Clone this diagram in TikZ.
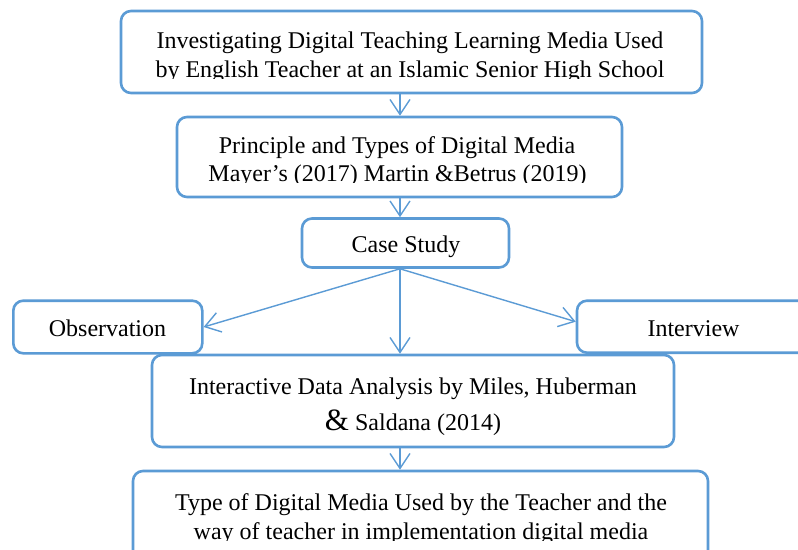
\documentclass[tikz,border=0pt]{standalone}
\usepackage{fontspec}
\setmainfont{Liberation Serif}
\usetikzlibrary{arrows.meta}
\definecolor{frame}{HTML}{5B9BD5}
\tikzset{
  box/.style={draw=frame, line width=2.6pt, rounded corners=10pt, fill=white, inner sep=0pt},
  txt/.style={anchor=base, inner sep=0pt, font=\fontsize{24}{24}\selectfont},
  arr/.style={draw=frame, line width=1.4pt, -{Straight Barb[length=15pt,width=20pt,line width=1.4pt]}}
}
\begin{document}
\begin{tikzpicture}[x=1pt,y=-1pt]
\clip (0,0) rectangle (798,549);
\fill[white] (0,0) rectangle (798,549);
\coordinate (axis) at (400,0);

% boxes
\node[box, minimum width=581pt, minimum height=82pt] (b1) at (411.5,52) {};
\node[box, minimum width=445pt, minimum height=80pt] (b2) at (399.5,157) {};
\node[box, minimum width=207pt, minimum height=49pt] (b3) at (405.5,243) {};
\node[box, minimum width=189pt, minimum height=52.6pt] (obs) at (107.8,327) {};
\node[box, minimum width=233pt, minimum height=52pt] (inv) at (693.5,326.7) {};
\node[box, minimum width=522pt, minimum height=92pt] (ida) at (413,401) {};
\node[box, minimum width=575pt, minimum height=110pt] (res) at (420.5,526) {};

% texts (lower lines are cut off just below their baseline)
\begin{scope}
  \clip (b1.north west) rectangle (b1.east |- 0,78.8);
  \node[txt] (t1a) at (410,48) {Investigating Digital Teaching Learning Media Used};
  \node[txt] (t1b) at (410,77.5) {by English Teacher at an Islamic Senior High School};
\end{scope}
\begin{scope}
  \clip (b2.north west) rectangle (b2.east |- 0,182.8);
  \node[txt] (t2a) at (397,153.3) {Principle and Types of Digital Media};
  \node[txt] (t2b) at (397.5,181.7) {Mayer’s (2017) Martin \&Betrus (2019)};
\end{scope}
\node[txt] (t3) at (406,252) {Case Study};
\node[txt] (t4) at (107.5,336.7) {Observation};
\node[txt] (t5) at (693.5,336.7) {Interview};
\node[txt] (t6a) at (413,394.8) {Interactive Data Analysis by Miles, Huberman};
\node[txt] (t6b) at (413,430) {{\fontsize{31}{31}\selectfont\&} Saldana (2014)};
\begin{scope}
  \clip (res.north west) rectangle (res.east |- 0,540.8);
  \node[txt] (t7a) at (421,510) {Type of Digital Media Used by the Teacher and the};
  \node[txt] (t7b) at (421,539.5) {way of teacher in implementation digital media};
\end{scope}

% connectors
\draw[arr] (b1.south -| axis) -- (b2.north -| axis);
\draw[arr] (b2.south -| axis) -- (b3.north -| axis);
\draw[arr] (b3.south -| axis) -- (obs.east);
\draw[arr] (b3.south -| axis) -- ([yshift=5pt]inv.west);
\draw[arr] (b3.south -| axis) -- (ida.north -| axis);
\draw[arr] (ida.south -| axis) -- (res.north -| axis);
\end{tikzpicture}
\end{document}
